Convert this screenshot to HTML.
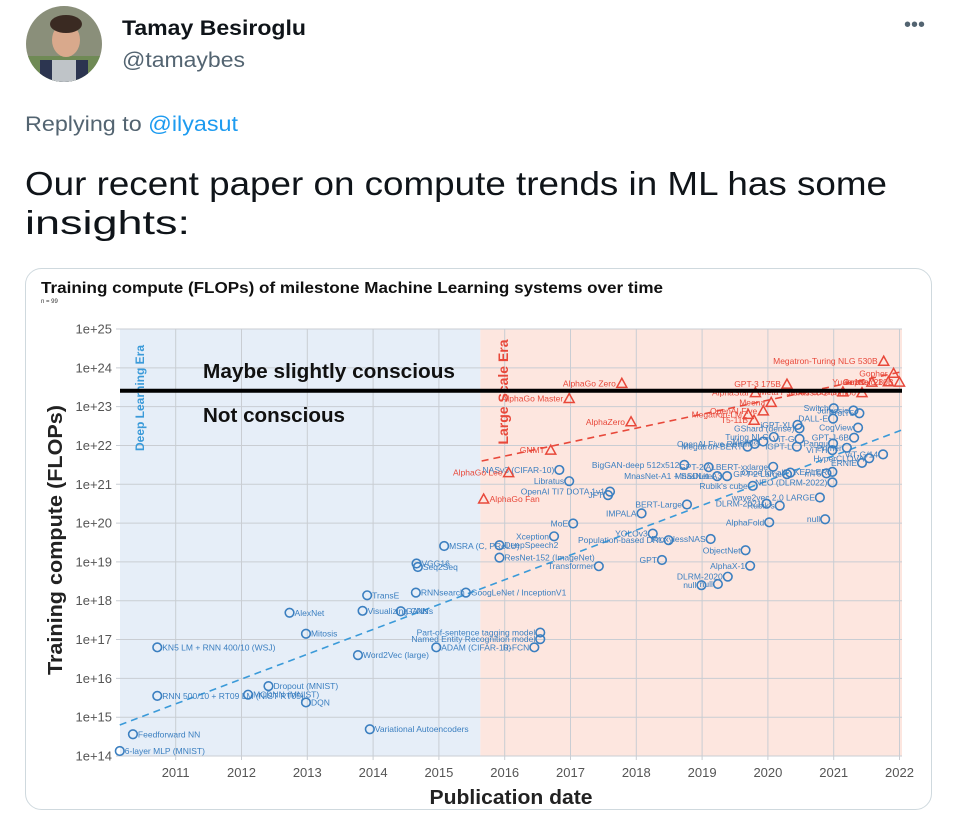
<!DOCTYPE html>
<html><head><meta charset="utf-8">
<style>
html,body{margin:0;padding:0;background:#fff;width:960px;height:822px;overflow:hidden}
svg{display:block;font-family:"Liberation Sans",sans-serif}
</style></head>
<body>
<svg id="root" width="960" height="822" viewBox="0 0 960 822">
  <g>
    <circle cx="64" cy="44" r="38" fill="#8a8f7a"/>
    <clipPath id="avc"><circle cx="64" cy="44" r="38"/></clipPath>
    <g clip-path="url(#avc)"><rect x="26" y="56" width="76" height="30" fill="#6f8a55"/><rect x="40" y="60" width="48" height="30" fill="#2c3550"/><rect x="52" y="60" width="24" height="24" fill="#bfc4c8"/><ellipse cx="66" cy="40" rx="14" ry="17" fill="#d9a98c"/><ellipse cx="66" cy="24" rx="16" ry="9" fill="#3a2a22"/></g>
    <text x="122" y="35" font-size="21" font-weight="bold" fill="#0f1419" textLength="184" lengthAdjust="spacingAndGlyphs">Tamay Besiroglu</text>
    <text x="122" y="67" font-size="21" fill="#536471" textLength="123" lengthAdjust="spacingAndGlyphs">@tamaybes</text>
    <text x="904" y="31" font-size="20" fill="#536471">•••</text>
    <text x="25" y="131" font-size="21" fill="#536471" textLength="213" lengthAdjust="spacingAndGlyphs">Replying to <tspan fill="#1d9bf0">@ilyasut</tspan></text>
    <text x="25" y="195" font-size="33" fill="#0f1419" textLength="862" lengthAdjust="spacingAndGlyphs">Our recent paper on compute trends in ML has some</text>
    <text x="25" y="234" font-size="33" fill="#0f1419" textLength="165" lengthAdjust="spacingAndGlyphs">insights:</text>
  </g>
  <rect x="25.5" y="268.5" width="906" height="541" rx="16" fill="#fff" stroke="#cfd9de"/>
  <text x="41" y="293" font-size="16" font-weight="bold" fill="#111" textLength="622" lengthAdjust="spacingAndGlyphs">Training compute (FLOPs) of milestone Machine Learning systems over time</text>
  <text x="41" y="303" font-size="6" fill="#333">n = 99</text>
  <g id="chart"></g>
</svg>
<script>
const NS="http://www.w3.org/2000/svg";
// ---- data ----
const yTicks=[14,15,16,17,18,19,20,21,22,23,24,25];
const xTicks=[2011,2012,2013,2014,2015,2016,2017,2018,2019,2020,2021,2022];
const eraBoundary=2015.63;
const consciousThreshold=23.41;
const blueNames=["6-layer MLP (MNIST)","Feedforward NN","RNN 500/10 + RT09 LM (NIST RT05)","KN5 LM + RNN 400/10 (WSJ)","MCDNN (MNIST)","Dropout (MNIST)","DQN","Mitosis","AlexNet","TransE","Visualizing CNNs","GANs","Word2Vec (large)","Variational Autoencoders","VGG16","Seq2Seq","RNNsearch","GoogLeNet / InceptionV1","MSRA (C, PReLU)","ADAM (CIFAR-10)","Part-of-sentence tagging model","Named Entity Recognition model","R-FCN","DeepSpeech2","ResNet-152 (ImageNet)","Xception","Transformer","YOLOv3","Population-based DRL","ProxylessNAS","GPT","ObjectNet","AlphaX-1","DLRM-2020","null","null","MoE","AlphaFold","null","NASv3 (CIFAR-10)","Libratus","OpenAI TI7 DOTA 1v1","JFT","BERT-Large","IMPALA","BigGAN-deep 512x512","GPT-2","ALBERT-xxlarge","MnasNet-A3","MnasNet-A1 + SSDLite","Rubik's cube","wave2vec 2.0 LARGE","DLRM-2021","Rubik's","Once for all","mT5","GPT-2 Large","NEO (DLRM-2022)","KEPLER","Megatron-BERT","OpenAI Five Rerun","Meena","Turing NLG","GShard (dense)","iGPT-XL","iGPT-L","ViT-G","Switch","Jurassic","ProtT5","DALL-E","CogView","GPT-J-6B","Pangu","ViT-H","Primer","ERNIE","HyperCLOVA","ViT-G/14"];
const blueYear=[2010.15,2010.35,2010.72,2010.72,2012.1,2012.41,2012.98,2012.98,2012.73,2013.91,2013.84,2014.42,2013.77,2013.95,2014.66,2014.68,2014.65,2015.41,2015.08,2014.96,2016.54,2016.54,2016.45,2015.92,2015.92,2016.75,2017.43,2018.25,2018.49,2019.13,2018.39,2019.66,2019.73,2019.39,2018.99,2019.24,2017.04,2020.02,2020.87,2016.83,2016.98,2017.6,2017.57,2018.77,2018.08,2018.73,2019.1,2020.08,2019.38,2019.23,2019.77,2020.79,2019.98,2020.18,2020.34,2020.89,2020.29,2020.98,2020.98,2019.69,2019.8,2019.93,2020.09,2020.48,2020.45,2020.44,2020.48,2021.0,2021.3,2021.39,2020.99,2021.37,2021.31,2020.99,2020.98,2021.2,2021.43,2021.54,2021.75];
const blueLog=[14.13,14.56,15.55,16.8,15.58,15.8,15.38,17.15,17.69,18.14,17.74,17.73,16.6,14.69,18.96,18.87,18.21,18.21,19.41,16.8,17.18,17.01,16.8,19.43,19.11,19.66,18.89,19.73,19.56,19.59,19.05,19.3,18.9,18.62,18.4,18.43,19.99,20.02,20.1,21.37,21.08,20.81,20.72,20.48,20.25,21.5,21.44,21.45,21.21,21.21,20.96,20.66,20.5,20.45,21.3,21.28,21.26,21.05,21.32,21.97,22.04,22.1,22.22,22.44,22.53,21.97,22.17,22.96,22.9,22.83,22.69,22.46,22.2,22.05,21.88,21.94,21.55,21.67,21.77];
const redNames=["AlphaGo Fan","AlphaGo Lee","GNMT","AlphaGo Master","AlphaGo Zero","AlphaZero","Megatron-LM","T5-11B","OpenAI Five","Meena","AlphaStar","GPT-3 175B","Meta Pseudo Labels","Jurassic-1-Jumbo","Megatron-Turing NLG 530B","Gopher","Yuan 1.0","Jurassic-1","Gopher 280B"];
const redYear=[2015.68,2016.06,2016.7,2016.98,2017.78,2017.92,2019.7,2019.79,2019.93,2020.05,2019.81,2020.29,2021.14,2021.43,2021.76,2021.91,2021.58,2021.83,2022.0];
const redLog=[20.62,21.3,21.88,23.21,23.6,22.61,22.8,22.65,22.89,23.11,23.36,23.58,23.38,23.36,24.17,23.86,23.63,23.64,23.63];
const blueTrend=[[2010.15,14.8],[2022.05,22.4]];
const redTrend=[[2015.65,21.6],[2022.05,23.9]];
// ---- axes ----
const L=120,R=902,T=329,B=756;
const x=y=>175.7+(y-2011)*65.8;
const yS=v=>329+(25-v)*38.82;
const g=document.getElementById('chart');
function mk(tag,attrs,parent){const e=document.createElementNS(NS,tag);for(const k in attrs)e.setAttribute(k,attrs[k]);(parent||g).appendChild(e);return e;}
let e;
e=mk('rect',{x:L,y:T,width:x(eraBoundary)-L,height:B-T,fill:'#e6eef8'});


e=mk('rect',{x:x(eraBoundary),y:T,width:R-x(eraBoundary),height:B-T,fill:'#fde6df'});


yTicks.forEach(t=>{
  e=mk('line',{x1:L-4,x2:R,y1:yS(t),y2:yS(t),stroke:'#c9cdd3','stroke-width':1});
  
  
  e=mk('text',{x:L-8,y:yS(t)+4.5,'text-anchor':'end','font-size':13,fill:'#555'});
  e.textContent='1e+'+t;
  
  
});
xTicks.forEach(t=>{
  e=mk('line',{x1:x(t),x2:x(t),y1:T,y2:B+4,stroke:'#c9cdd3','stroke-width':1});
  
  
  e=mk('text',{x:x(t),y:B+21,'text-anchor':'middle','font-size':13,fill:'#555'});
  e.textContent=t;
  
  
});
e=mk('text',{x:511,y:804,'text-anchor':'middle','font-size':20,'font-weight':'bold',fill:'#222',textLength:163,lengthAdjust:'spacingAndGlyphs'});
e.textContent='Publication date';


e=mk('text',{transform:'translate(62,540) rotate(-90)','text-anchor':'middle','font-size':20,'font-weight':'bold',fill:'#222',textLength:270,lengthAdjust:'spacingAndGlyphs'});
e.textContent='Training compute (FLOPs)';


e=mk('text',{transform:'translate(144,398) rotate(-90)','text-anchor':'middle','font-size':12,'font-weight':'bold',fill:'#3a9ad9'});
e.textContent='Deep Learning Era';


e=mk('text',{transform:'translate(508,392) rotate(-90)','text-anchor':'middle','font-size':14,'font-weight':'bold',fill:'#e8483a'});
e.textContent='Large Scale Era';


// trend lines
e=mk('line',{x1:x(blueTrend[0][0]),y1:yS(blueTrend[0][1]),x2:Math.min(R,x(blueTrend[1][0])),y2:yS(blueTrend[1][1]),stroke:'#3a9ad9','stroke-width':1.6,'stroke-dasharray':'7,5'});


e=mk('line',{x1:x(redTrend[0][0]),y1:yS(redTrend[0][1]),x2:Math.min(R,x(redTrend[1][0])),y2:yS(redTrend[1][1]),stroke:'#e8483a','stroke-width':1.6,'stroke-dasharray':'7,5'});


// blue points
blueYear.forEach((yr,i)=>{
  const cx=x(yr),cy=yS(blueLog[i]);
  e=mk('circle',{cx:cx,cy:cy,r:4.3,fill:'none',stroke:'#3b7fc0','stroke-width':1.6});
  
  
  const right=yr<2016;
  e=mk('text',{x:right?cx+5:cx-5,y:cy+3,'text-anchor':right?'start':'end','font-size':8.5,fill:'#3b7fc0'});
  e.textContent=blueNames[i];
  
  
});
// red triangles
redYear.forEach((yr,i)=>{
  const cx=x(yr),cy=yS(redLog[i]);
  e=mk('path',{d:`M${cx-5},${cy+4}L${cx},${cy-5}L${cx+5},${cy+4}Z`,fill:'none',stroke:'#e8483a','stroke-width':1.5});
  
  
  const right=yr<2015.8;
  e=mk('text',{x:right?cx+6:cx-6,y:cy+3,'text-anchor':right?'start':'end','font-size':8.5,fill:'#e8483a'});
  e.textContent=redNames[i];
  
  
});
// consciousness line
e=mk('line',{x1:L,x2:R,y1:yS(consciousThreshold),y2:yS(consciousThreshold),stroke:'#000','stroke-width':4});


e=mk('text',{x:203,y:378,'font-size':20,'font-weight':'bold',fill:'#111',textLength:252,lengthAdjust:'spacingAndGlyphs'});
e.textContent='Maybe slightly conscious';


e=mk('text',{x:203,y:422,'font-size':20,'font-weight':'bold',fill:'#111',textLength:142,lengthAdjust:'spacingAndGlyphs'});
e.textContent='Not conscious';


</script>
</body></html>
